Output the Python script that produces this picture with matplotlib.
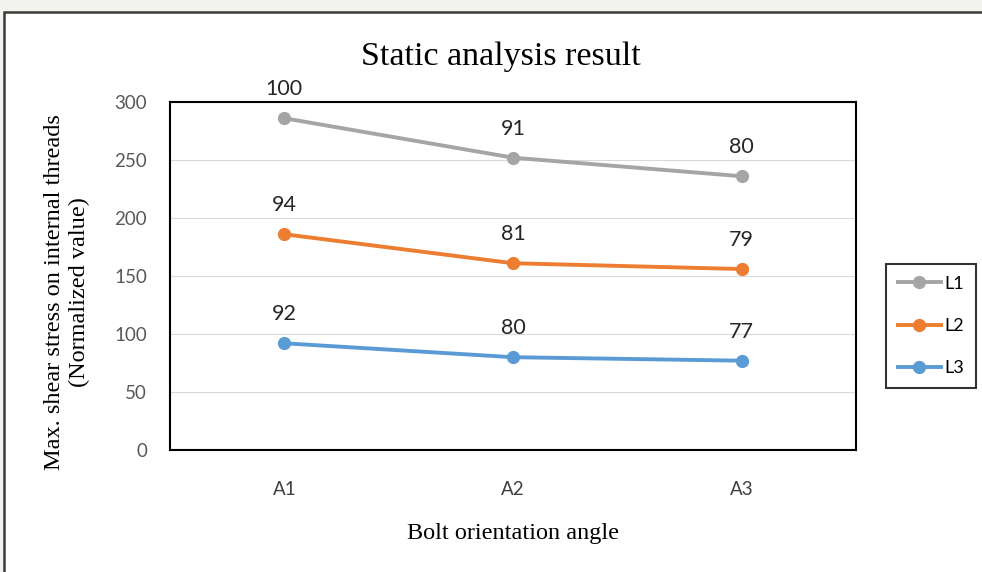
import numpy as np
import matplotlib.pyplot as plt
from matplotlib.patches import Rectangle

# Normalized max. shear stress per bolt orientation angle (stacked line chart)
angles = ['A1', 'A2', 'A3']
L1 = [100, 91, 80]
L2 = [94, 81, 79]
L3 = [92, 80, 77]
series_names = ['L1', 'L2', 'L3']
colors = ['#A5A5A5', '#ED7D31', '#5B9BD5']
y_ticks = [0, 50, 100, 150, 200, 250, 300]

serif = 'Liberation Serif'
sans = 'Lato'

fig = plt.figure(figsize=(9.82, 5.72), dpi=100)
fig.patch.set_facecolor('#F2F2EE')

# white panel with dark frame
panel = Rectangle((4 / 982, -0.05), 1.1, 0.05 + 1 - 12 / 572,
                  transform=fig.transFigure, facecolor='white',
                  edgecolor='#3A3A3A', linewidth=1.8, zorder=-5)
fig.patches.append(panel)

ax = fig.add_axes([170 / 982, 1 - 450 / 572, 686 / 982, 348 / 572])
ax.set_facecolor('white')

x = np.arange(len(angles))
stack3 = np.array(L3)
stack2 = stack3 + np.array(L2)
stack1 = stack2 + np.array(L1)

lines = []
for vals, labels, name, c in [(stack1, L1, series_names[0], colors[0]),
                              (stack2, L2, series_names[1], colors[1]),
                              (stack3, L3, series_names[2], colors[2])]:
    ln, = ax.plot(x, vals, '-o', color=c, lw=2.8, ms=8.5, label=name, zorder=3)
    lines.append(ln)
    for xi, yi, lab in zip(x, vals, labels):
        ax.annotate(str(lab), (xi, yi), xytext=(0, 21), textcoords='offset points',
                    ha='center', va='center', fontsize=15.5, family=sans,
                    color='#262626')

ax.set_xlim(-0.5, 2.5)
ax.set_ylim(0, 300)
ax.set_yticks(y_ticks)
ax.set_xticks(x)
ax.set_xticklabels(angles)
ax.grid(axis='y', color='#D9D9D9', lw=0.8)
ax.set_axisbelow(True)
for s in ax.spines.values():
    s.set_color('black')
    s.set_linewidth(1.5)
ax.tick_params(axis='both', length=0, labelsize=13.5)
ax.tick_params(axis='y', pad=16.5, labelcolor='#595959')
ax.tick_params(axis='x', pad=22, labelcolor='#404040')
for t in ax.get_xticklabels() + ax.get_yticklabels():
    t.set_family(sans)

fig.text(501 / 982, 1 - 57 / 572, 'Static analysis result', ha='center',
         va='center', fontsize=24.5, family=serif, color='black')
fig.text(513 / 982, 1 - 534 / 572, 'Bolt orientation angle', ha='center',
         va='center', fontsize=17.5, family=serif, color='black')
fig.text(67 / 982, 1 - 292 / 572,
         'Max. shear stress on internal threads\n(Normalized value)',
         ha='center', va='center', rotation=90, fontsize=17.5, family=serif,
         color='black', linespacing=1.2)

leg = fig.legend(handles=lines, loc='center', bbox_to_anchor=(931 / 982, 1 - 326 / 572),
                 frameon=True, fancybox=False, edgecolor='black',
                 handlelength=2.4, labelspacing=1.45, borderpad=0.65,
                 handletextpad=0.2, prop={'family': sans, 'size': 13})
leg.get_frame().set_linewidth(1.5)

fig.savefig('out.png', dpi=100)
